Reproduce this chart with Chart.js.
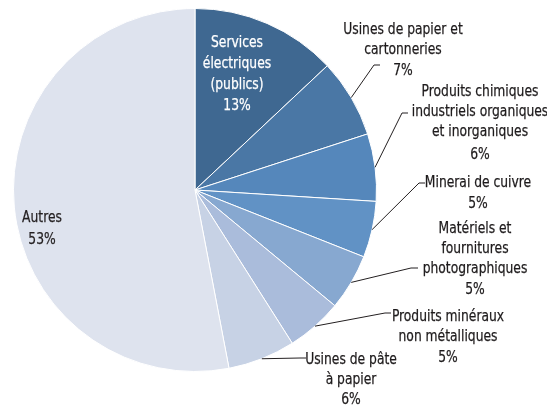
<!DOCTYPE html>
<html><head><meta charset="utf-8">
<script src="https://cdn.jsdelivr.net/npm/chart.js@4"></script>
<style>html,body{margin:0;padding:0;background:#fff}#wrap{width:547px;height:406px}</style>
</head><body><div id="wrap"><canvas id="c" width="547" height="406"></canvas></div>
<script>
const categories = [
  "Services électriques (publics)",
  "Usines de papier et cartonneries",
  "Produits chimiques industriels organiques et inorganiques",
  "Minerai de cuivre",
  "Matériels et fournitures photographiques",
  "Produits minéraux non métalliques",
  "Usines de pâte à papier",
  "Autres"
];
const values = [13, 7, 6, 5, 5, 5, 6, 53];
const labelLines = [
  ["Services", "électriques", "(publics)"],
  ["Usines de papier et", "cartonneries"],
  ["Produits chimiques", "industriels organiques", "et inorganiques"],
  ["Minerai de cuivre"],
  ["Matériels et", "fournitures", "photographiques"],
  ["Produits minéraux", "non métalliques"],
  ["Usines de pâte", "à papier"],
  ["Autres"]
];
const colors = ["#3f6891","#4a77a5","#5587bb","#6192c5","#87a8d0","#aabcdb","#c7d2e5","#dee3ee"];

// label layout (annotation placement)
const layoutCfg = [
  {x:237, y:[43,64,85,106], color:"#ffffff"},
  {x:403, y:[30,50,71], line:[[374,65],[380,65]]},
  {x:480, y:[92,112,132,155], line:[[402,113],[408,113]]},
  {x:478, y:[183,204], line:[[419,183],[425,183]]},
  {x:475, y:[229,249,269,290], line:[[411,268],[418,268]]},
  {x:448, y:[317,337,358], line:[[385,313],[391,313]]},
  {x:351, y:[360,380,400], line:[[300,358],[306,358]]},
  {x:42, y:[218,240], color:"#231f20"}
];
const textScaleX = 0.83;

const labelPlugin = {
  id: 'pieLabels',
  afterDraw(chart) {
    const ctx = chart.ctx;
    const meta = chart.getDatasetMeta(0);
    ctx.save();
    meta.data.forEach((arc, i) => {
      const L = layoutCfg[i];
      const p = arc.getProps(['x','y','startAngle','endAngle','outerRadius'], true);
      if (L.line) {
        const a = (p.startAngle + p.endAngle) / 2;
        const sx = p.x + Math.cos(a) * p.outerRadius;
        const sy = p.y + Math.sin(a) * p.outerRadius;
        ctx.strokeStyle = '#231f20';
        ctx.lineWidth = 1;
        ctx.beginPath();
        ctx.moveTo(sx, sy);
        L.line.forEach(pt => ctx.lineTo(pt[0], pt[1]));
        ctx.stroke();
      }
      const lines = labelLines[i].concat([values[i] + '%']);
      lines.forEach((t, k) => {
        ctx.save();
        ctx.translate(L.x, L.y[k]);
        ctx.scale(textScaleX, 1);
        ctx.font = '16.5px "Liberation Sans Narrow", "Arial Narrow", "DejaVu Sans Condensed", sans-serif';
        ctx.textAlign = 'center';
        ctx.textBaseline = 'middle';
        const c = L.color || '#1e1b1c';
        ctx.fillStyle = c;
        ctx.strokeStyle = c;
        ctx.lineWidth = 0.25;
        ctx.fillText(t, 0, 0);
        ctx.strokeText(t, 0, 0);
        ctx.restore();
      });
    });
    ctx.restore();
  }
};

new Chart(document.getElementById('c'), {
  type: 'pie',
  data: {
    labels: categories,
    datasets: [{
      data: values,
      backgroundColor: colors,
      borderColor: '#ffffff',
      borderWidth: 1
    }]
  },
  options: {
    responsive: false,
    animation: false,
    layout: { padding: { left: 13, top: 8, right: 170, bottom: 34 } },
    plugins: { legend: { display: false }, tooltip: { enabled: false } }
  },
  plugins: [labelPlugin]
});
</script>
</body></html>
